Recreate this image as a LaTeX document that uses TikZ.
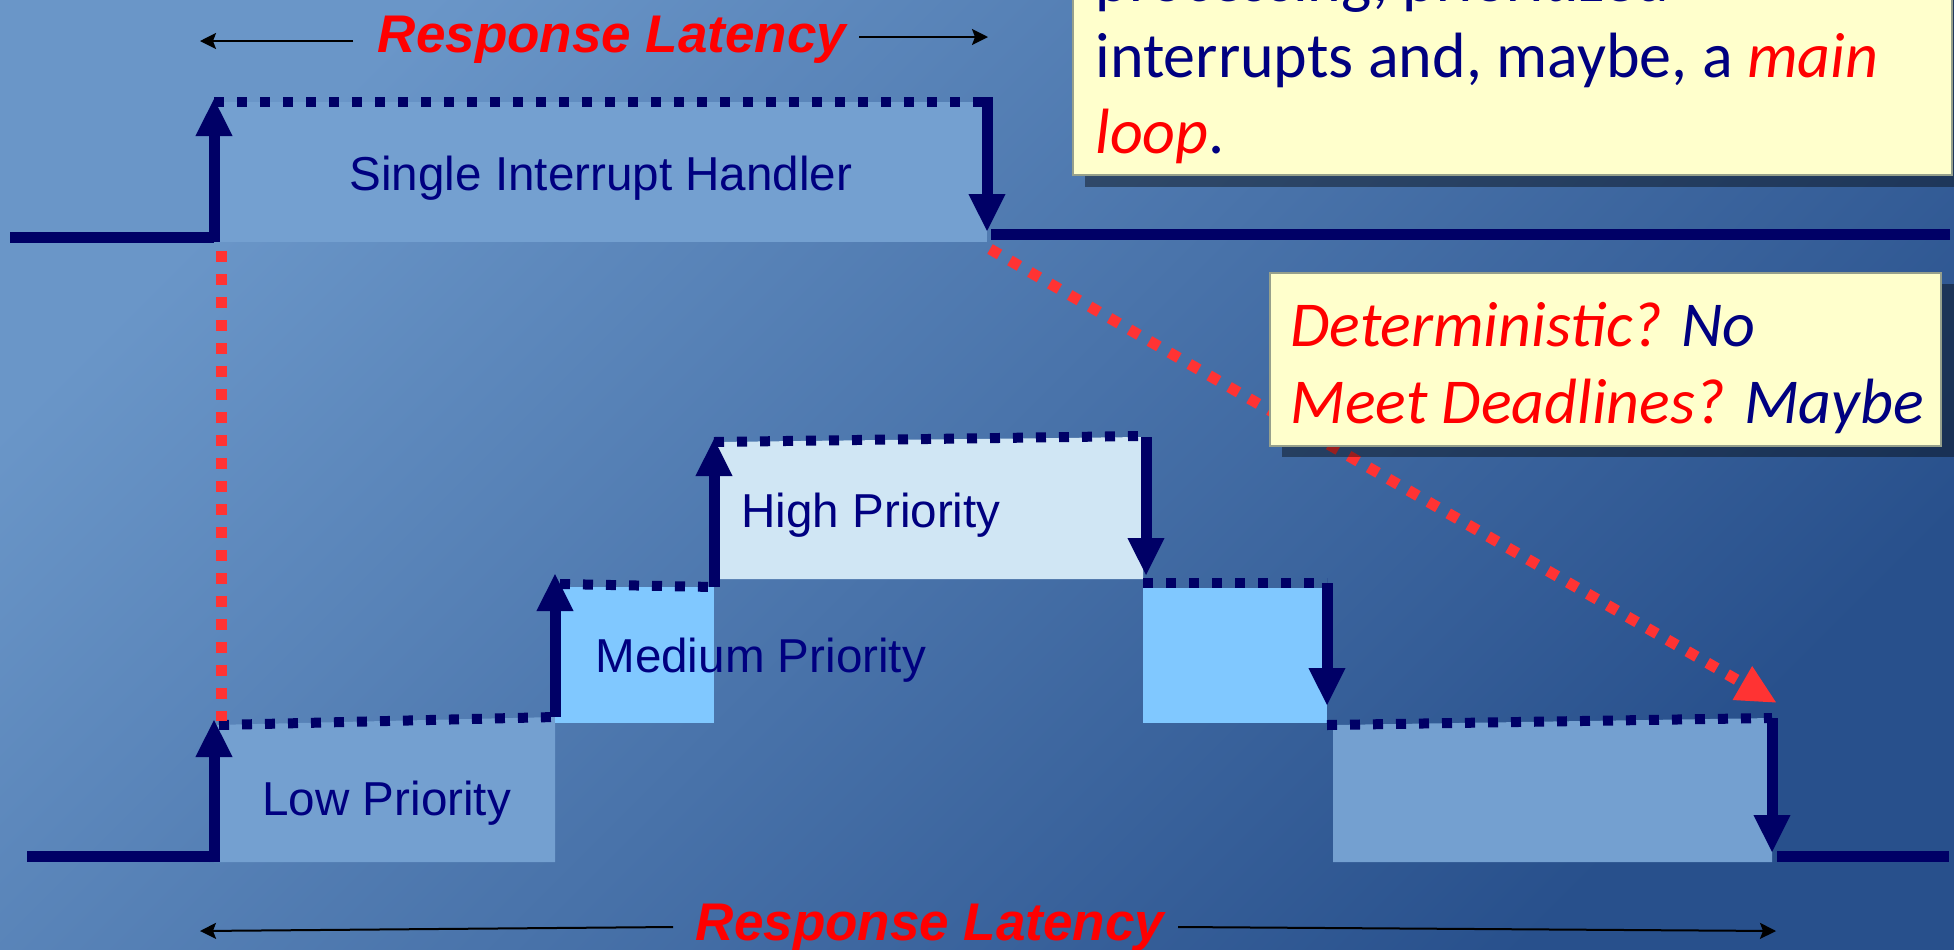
\documentclass[tikz,border=0pt]{standalone}
\usepackage{fontspec}
\setmainfont{Liberation Sans}
\newfontfamily\calfont{Carlito}
\usetikzlibrary{arrows.meta}

\definecolor{bgA}{RGB}{106,150,200}
\definecolor{bgB}{RGB}{40,80,140}
\definecolor{sigc}{RGB}{0,0,102}
\definecolor{lbl}{RGB}{0,0,128}
\definecolor{lowfill}{RGB}{116,160,208}
\definecolor{medfill}{RGB}{128,200,255}
\definecolor{highfill}{RGB}{208,230,244}
\definecolor{hot}{RGB}{255,0,0}
\definecolor{hotdot}{RGB}{255,51,51}
\definecolor{note}{RGB}{255,255,204}
\definecolor{noteedge}{RGB}{150,160,140}

\tikzset{
  sig/.style={draw=sigc, line width=5.5pt},
  sigarrow/.style={sig, -{Triangle[length=19pt,width=17pt]}},
  navydots/.style={draw=sigc, line width=5pt, dash pattern=on 5pt off 6.5pt},
  reddots/.style={draw=hotdot, line width=5.5pt, dash pattern=on 5.5pt off 6pt},
  redarrow/.style={reddots, -{Triangle[length=20pt,width=18pt,fill=hotdot]}},
  latency/.style={draw=black, line width=1pt, -{Stealth[length=8pt,width=8pt,inset=1.5pt]}},
  latlabel/.style={inner sep=0pt, text=hot, font=\fontsize{26.5}{30}\selectfont\bfseries\itshape},
  boxlabel/.style={inner sep=0pt, text=lbl, font=\fontsize{23.8}{28}\selectfont},
  notetext/.style={inner sep=0pt, anchor=base west, text=lbl, font=\calfont\fontsize{32}{38}\selectfont},
  shadow/.style={fill=black, fill opacity=0.4},
  notebox/.style={fill=note, draw=noteedge, line width=0.8pt}
}

\begin{document}
\begin{tikzpicture}[x=0.5pt,y=-0.5pt]
\useasboundingbox (0,0) rectangle (1954,949);
\shade[shading=axis, top color=bgA, bottom color=bgB, shading angle=45] (0,0) rectangle (1954,949);

% ---------- single interrupt handler trace ----------
\coordinate (t0) at (10,237);
\coordinate (t1) at (214,237);
\coordinate (t1b) at (214,242);
\coordinate (t1top) at (214,98);
\coordinate (t2) at (214,102);
\coordinate (t3) at (987,102);
\coordinate (t4top) at (987,97);
\coordinate (t4) at (987,232);
\coordinate (t5) at (991,234);
\coordinate (t6) at (1950,234);

\fill[lowfill] (214,102) rectangle (987,242);
\draw[sig] (t0) -- (t1);
\draw[sigarrow] (t1b) -- (t1top);
\draw[navydots] (t2) -- (t3);
\draw[sigarrow] (t4top) -- (t4);
\draw[sig] (t5) -- (t6);

% ---------- prioritized interrupt trace ----------
\coordinate (b0) at (27,856);
\coordinate (b1) at (214,856);
\coordinate (b1b) at (214,862);
\coordinate (b1top) at (214,719);
\coordinate (l1a) at (219,725);
\coordinate (l1b) at (555,717);
\coordinate (m1up) at (555,573);
\coordinate (m1a) at (560,584);
\coordinate (m1b) at (714,587);
\coordinate (h1up) at (714,438);
\coordinate (h1a) at (714,442);
\coordinate (h1b) at (1140,436);
\coordinate (h1d) at (1146,437);
\coordinate (h1end) at (1146,576);
\coordinate (m2a) at (1143,583);
\coordinate (m2b) at (1327,583);
\coordinate (m2end) at (1327,706);
\coordinate (l2a) at (1327,725);
\coordinate (l2b) at (1772,718);
\coordinate (l2end) at (1772,853);
\coordinate (b2) at (1777,856);
\coordinate (b3) at (1949,856);

\fill[lowfill] (214,725) -- (555,717) -- (555,862) -- (214,862) -- cycle;
\fill[medfill] (555,587) rectangle (714,723);
\fill[highfill] (714,442) -- (1143,437) -- (1143,579) -- (714,579) -- cycle;
\fill[medfill] (1143,588) rectangle (1327,723);
\fill[lowfill] (1333,725) -- (1772,718) -- (1772,862) -- (1333,862) -- cycle;

\draw[sig] (b0) -- (b1);
\draw[sigarrow] (b1b) -- (b1top);
\draw[navydots] (l1a) -- (l1b);
\draw[sigarrow] (l1b) -- (m1up);
\draw[navydots] (m1a) -- (m1b);
\draw[sigarrow] (m1b) -- (h1up);
\draw[navydots] (h1a) -- (h1b);
\draw[sigarrow] (h1d) -- (h1end);
\draw[navydots] (m2a) -- (m2b);
\draw[sigarrow] (m2b) -- (m2end);
\draw[navydots] (l2a) -- (l2b);
\draw[sigarrow] (l2b) -- (l2end);
\draw[sig] (b2) -- (b3);

% ---------- red guide lines ----------
\coordinate (r0) at (221,251);
\coordinate (r1) at (221,721);
\coordinate (r2) at (990,249);
\coordinate (r3) at (1777,703);
\draw[reddots] (r0) -- (r1);
\draw[redarrow] (r2) -- (r3);

% ---------- box labels ----------
\node[boxlabel, anchor=base] (sih) at (601,190) {Single Interrupt Handler};
\node[boxlabel, anchor=base west] (hp) at (741,527) {High Priority};
\node[boxlabel, anchor=base west] (mp) at (595,672) {Medium Priority};
\node[boxlabel, anchor=base west] (lp) at (262,815) {Low Priority};

% ---------- notes ----------
\fill[shadow] (1085,-20) rectangle (1966,187);
\path[notebox] (1073,-20) rectangle (1952,175);
\node[notetext] (n1) at (1095,1) {processing, prioritized};
\node[notetext] (n2) at (1095,77) {interrupts and, maybe, a \textcolor{hot}{\itshape main}};
\node[notetext] (n3) at (1095,153) {\textcolor{hot}{\itshape loop}.};

\fill[shadow] (1282,284) rectangle (1960,457);
\path[notebox] (1270,273) rectangle (1941,446);
\node[notetext, font=\calfont\itshape\fontsize{32}{38}\selectfont] (q1) at (1290,346) {\textcolor{hot}{Deterministic?} No};
\node[notetext, font=\calfont\itshape\fontsize{32}{38}\selectfont] (q2) at (1290,423) {\textcolor{hot}{Meet Deadlines?} Maybe};

% ---------- response latency markers ----------
\node[latlabel, anchor=base] (lat1) at (612,52) {Response Latency};
\coordinate (a1s) at (353,41);
\coordinate (a1e) at (200,41);
\coordinate (a2s) at (859,37);
\coordinate (a2e) at (988,37);
\draw[latency] (a1s) -- (a1e);
\draw[latency] (a2s) -- (a2e);

\node[latlabel, anchor=base] (lat2) at (930,940) {Response Latency};
\coordinate (a3s) at (673,927);
\coordinate (a3e) at (200,931);
\coordinate (a4s) at (1178,927);
\coordinate (a4e) at (1776,931);
\draw[latency] (a3s) -- (a3e);
\draw[latency] (a4s) -- (a4e);
\end{tikzpicture}
\end{document}
